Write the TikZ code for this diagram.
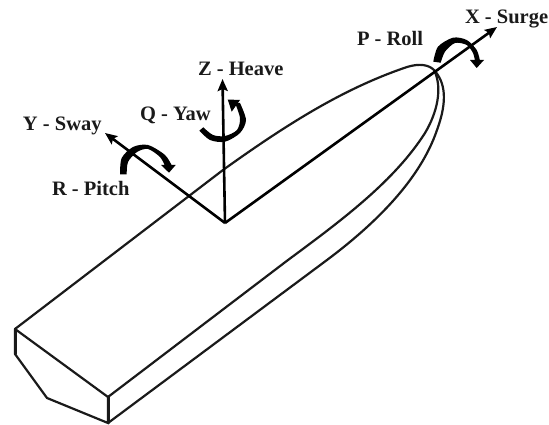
\documentclass[tikz,border=0pt]{standalone}
\usepackage{fontspec}
\setmainfont{Liberation Serif}
\usetikzlibrary{arrows.meta}
\definecolor{ink}{HTML}{1A1A1A}
\tikzset{
  hull/.style={draw=ink,line width=2.2pt,line join=round,line cap=round},
  axisline/.style={draw=black,line width=2.6pt,-{Stealth[length=12pt,width=10pt,inset=2pt]}},
  lbl/.style={anchor=base west,inner sep=0pt,outer sep=0pt,font=\fontsize{20.5}{21}\selectfont\bfseries,text=ink},
  spin/.style={fill=black,draw=none},
}
\begin{document}
\begin{tikzpicture}[x=1pt,y=-1pt]
\useasboundingbox (0,0) rectangle (549,425);
% hull
\coordinate (tl) at (15,329);
\coordinate (tm) at (15,354);
\coordinate (tb) at (47,398);
\coordinate (kb) at (108,423);
\coordinate (dk) at (108,397);
\coordinate (bow) at (434,70);
\draw[hull] (tl) -- (tm) -- (tb) -- (kb) -- (dk) -- cycle;
\draw[hull,line width=3pt] (tl) -- (tm);
\draw[hull,line width=3pt] (kb) -- (dk);
\draw[hull] (tl) -- (223,170) .. controls (290,122) and (345,88) .. (407,67) .. controls (420,63) and (429,65) .. (bow);
\draw[hull] (dk) -- (288,260) .. controls (345,218) and (395,180) .. (425,133) .. controls (437,113) and (443,88) .. (bow);
\draw[hull] (kb) -- (327,260) .. controls (375,224) and (420,180) .. (437,130) .. controls (448,100) and (445,82) .. (bow);
% axes
\coordinate (o) at (225,223);
\coordinate (xt) at (497,27);
\coordinate (yt) at (105,133);
\coordinate (zt) at (222.5,79);
\draw[axisline,line join=round] (o) -- (xt);
\draw[axisline,line join=round] (o) -- (yt);
\draw[axisline] (o) -- (zt);
% yaw
\fill[spin] plot[smooth] coordinates {(199.3,130.7) (210,140) (225,141.7) (240,133) (246,120) (240,103)} -- plot[smooth] coordinates {(235,103) (240,118) (237,130) (225,136) (213,135) (203.3,127.3)} -- cycle;
\fill[spin] (227.7,99.5) -- (240,100) -- (231.7,111.7) -- cycle;
% pitch
\fill[spin] plot[smooth] coordinates {(120,174.3) (121.7,158) (133,147) (148,145) (165,155) (172,166)} -- plot[smooth] coordinates {(165,166) (160,157) (148,149) (137,152) (128,162) (126.7,174.3)} -- cycle;
\fill[spin] (161,165) -- (175.7,165) -- (169,172.7) -- cycle;
% roll
\fill[spin] plot[smooth] coordinates {(433.3,61.7) (438,46.7) (453,37.7) (466.7,40) (476.7,50) (480,61)} -- plot[smooth] coordinates {(475,61) (473,53) (466.7,45) (455,43) (445,51.7) (440.7,62.7)} -- cycle;
\fill[spin] (470,60) -- (484,60) -- (476.7,68) -- cycle;
% labels
\node[lbl] (lx) at (465,24) {X - Surge};
\node[lbl] (lp) at (357,46) {P - Roll};
\node[lbl] (lz) at (198,76) {Z - Heave};
\node[lbl] (lq) at (140,121) {Q - Yaw};
\node[lbl] (ly) at (23,131) {Y - Sway};
\node[lbl] (lr) at (52,196) {R - Pitch};
\end{tikzpicture}
\end{document}
